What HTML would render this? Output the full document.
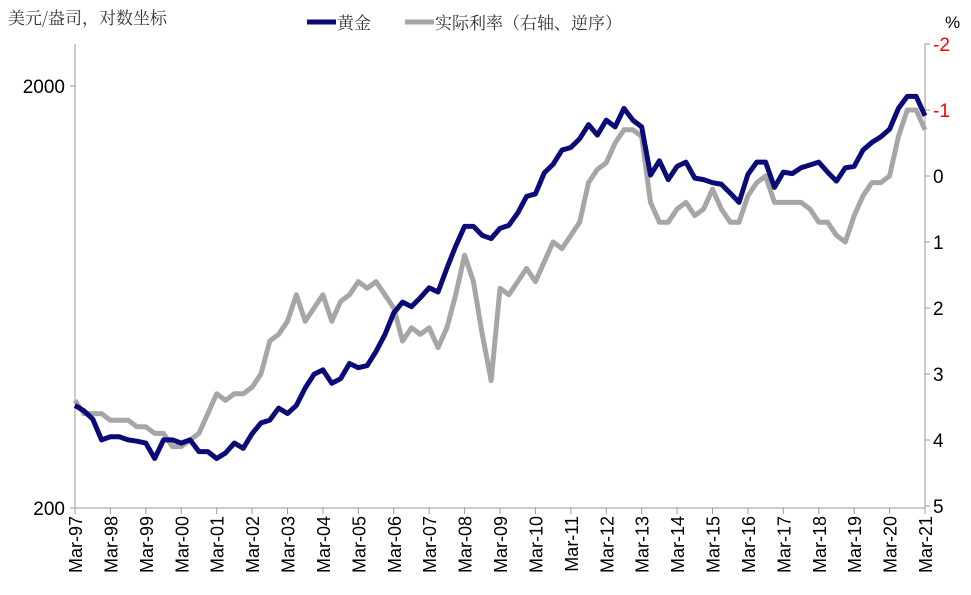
<!DOCTYPE html>
<html><head><meta charset="utf-8"><style>
body{margin:0;background:#fff;}
svg{display:block;font-family:"Liberation Sans","Noto Sans CJK SC",sans-serif;}
</style></head><body>
<svg id="c" width="971" height="595" viewBox="0 0 971 595">
<text x="8" y="24" font-size="17" fill="#333" font-family="'Noto Serif CJK SC','Noto Sans CJK SC',serif">美元/盎司，对数坐标</text>
<g>
<line x1="307" y1="22" x2="336" y2="22" stroke="#0a0a78" stroke-width="5"/>
<text x="337" y="29" font-size="17" fill="#333" font-family="'Noto Serif CJK SC','Noto Sans CJK SC',serif">黄金</text>
<line x1="405" y1="22" x2="434" y2="22" stroke="#a6a6a6" stroke-width="5"/>
<text x="435" y="29" font-size="17" fill="#333" font-family="'Noto Serif CJK SC','Noto Sans CJK SC',serif">实际利率（右轴、逆序）</text>
</g>
<text x="945" y="28" font-size="17" fill="#000">%</text>
<g id="axes"></g>
<g id="series"></g>
</svg>
<script>
const gold=[350,340,325,290,295,295,290,288,285,262,290,290,285,290,272,272,262,270,285,277,300,318,323,345,335,350,385,415,425,395,405,440,430,435,470,515,580,615,600,630,665,650,740,835,930,930,885,870,920,935,1000,1095,1110,1245,1305,1410,1430,1500,1620,1530,1660,1600,1770,1660,1600,1230,1330,1200,1290,1320,1210,1200,1180,1170,1115,1060,1235,1320,1320,1150,1250,1240,1280,1300,1320,1250,1190,1280,1290,1410,1470,1515,1580,1770,1890,1890,1700];
const rate=[3.4,3.6,3.6,3.6,3.7,3.7,3.7,3.8,3.8,3.9,3.9,4.1,4.1,4.0,3.9,3.6,3.3,3.4,3.3,3.3,3.2,3.0,2.5,2.4,2.2,1.8,2.2,2.0,1.8,2.2,1.9,1.8,1.6,1.7,1.6,1.8,2.0,2.5,2.3,2.4,2.3,2.6,2.3,1.8,1.2,1.6,2.4,3.1,1.7,1.8,1.6,1.4,1.6,1.3,1.0,1.1,0.9,0.7,0.1,-0.1,-0.2,-0.5,-0.7,-0.7,-0.6,0.4,0.7,0.7,0.5,0.4,0.6,0.5,0.2,0.5,0.7,0.7,0.3,0.1,0.0,0.4,0.4,0.4,0.4,0.5,0.7,0.7,0.9,1.0,0.6,0.3,0.1,0.1,0.0,-0.6,-1.0,-1.0,-0.7];
const xLabels=["Mar-97","Mar-98","Mar-99","Mar-00","Mar-01","Mar-02","Mar-03","Mar-04","Mar-05","Mar-06","Mar-07","Mar-08","Mar-09","Mar-10","Mar-11","Mar-12","Mar-13","Mar-14","Mar-15","Mar-16","Mar-17","Mar-18","Mar-19","Mar-20","Mar-21"];
const leftTicks=[200,2000];
const rightTicks=[-2,-1,0,1,2,3,4,5];
const NS="http://www.w3.org/2000/svg";
const X0=75,X1=925,TOP=44,BOT=508;
const xq=i=>X0+(X1-X0)*i/96;
const xy=i=>X0+(X1-X0)*i/24;
const yG=v=>86+(Math.log10(2000)-Math.log10(v))*422;
const yR=v=>176+v*66;
function el(t,a,p){const e=document.createElementNS(NS,t);for(const k in a)e.setAttribute(k,a[k]);p.appendChild(e);return e;}
const ax=document.getElementById('axes'),se=document.getElementById('series');
let e;
e=el('line',{x1:X0,y1:TOP,x2:X0,y2:BOT,stroke:'#999'},ax);


e=el('line',{x1:X1,y1:TOP,x2:X1,y2:BOT,stroke:'#999'},ax);


e=el('line',{x1:X0,y1:BOT,x2:X1,y2:BOT,stroke:'#999'},ax);


leftTicks.forEach(v=>{const y=yG(v);
el('line',{x1:X0-5,y1:y,x2:X0,y2:y,stroke:'#999'},ax);
e=el('text',{x:X0-10,y:y+7,'font-size':19,'text-anchor':'end',fill:'#000'},ax);e.textContent=v;

});
rightTicks.forEach(v=>{const y=yR(v);
el('line',{x1:X1,y1:y,x2:X1+5,y2:y,stroke:'#999'},ax);
e=el('text',{x:X1+8,y:y+7,'font-size':19,fill:v<0?'#f00':'#000'},ax);e.textContent=v;

});
xLabels.forEach((l,i)=>{const x=xy(i);
el('line',{x1:x,y1:BOT,x2:x,y2:BOT+6,stroke:'#999'},ax);
e=el('text',{transform:`translate(${x+7},${BOT+8}) rotate(-90)`,'font-size':18,'text-anchor':'end',fill:'#000'},ax);e.textContent=l;

});
e=el('polyline',{points:rate.map((v,i)=>xq(i)+','+yR(v)).join(' '),fill:'none',stroke:'#a6a6a6','stroke-width':5,'stroke-linejoin':'round'},se);


e=el('polyline',{points:gold.map((v,i)=>xq(i)+','+yG(v)).join(' '),fill:'none',stroke:'#0a0a78','stroke-width':5,'stroke-linejoin':'round'},se);


</script>
</body></html>
